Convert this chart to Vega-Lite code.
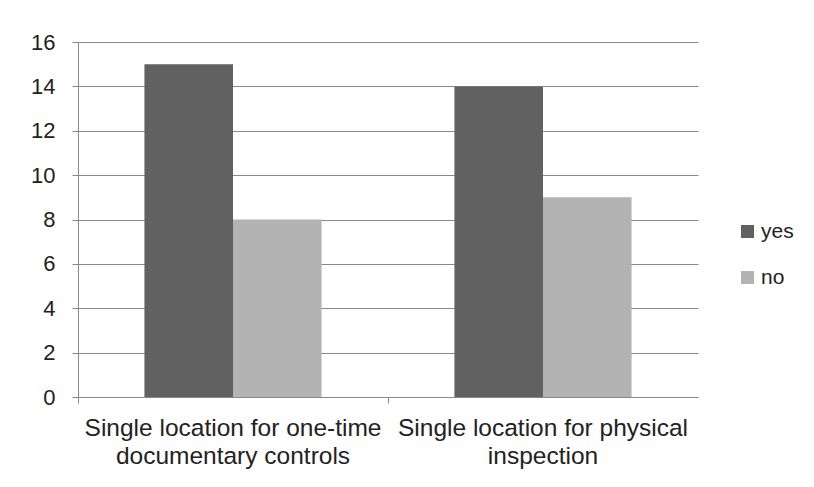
{
  "$schema": "https://vega.github.io/schema/vega-lite/v6.json",
  "autosize": "none",
  "width": 620,
  "height": 355,
  "padding": {"left": 78, "top": 42, "right": 116, "bottom": 90},
  "background": "white",
  "data": {
    "values": [
      {"category": "Single location for one-time documentary controls", "answer": "yes", "count": 15},
      {"category": "Single location for one-time documentary controls", "answer": "no", "count": 8},
      {"category": "Single location for physical inspection", "answer": "yes", "count": 14},
      {"category": "Single location for physical inspection", "answer": "no", "count": 9}
    ]
  },
  "mark": {"type": "bar"},
  "encoding": {
    "x": {
      "field": "category",
      "type": "nominal",
      "sort": null,
      "title": null,
      "scale": {"paddingInner": 0, "paddingOuter": 0},
      "axis": {
        "bandPosition": 0,
        "labelAngle": 0,
        "labelFontSize": 24.5,
        "labelFont": "Liberation Sans",
        "labelColor": "#222",
        "labelPadding": 13,
        "labelLineHeight": 28,
        "labelLimit": 400,
        "domainColor": "#888",
        "tickColor": "#888",
        "tickSize": 6,
        "labelExpr": "datum.value == 'Single location for one-time documentary controls' ? ['Single location for one-time', 'documentary controls'] : ['Single location for physical', 'inspection']"
      }
    },
    "xOffset": {
      "field": "answer",
      "type": "nominal",
      "sort": ["yes", "no"],
      "scale": {"paddingInner": 0, "paddingOuter": 0.75}
    },
    "y": {
      "field": "count",
      "type": "quantitative",
      "title": null,
      "scale": {"domain": [0, 16], "nice": false},
      "axis": {
        "values": [0, 2, 4, 6, 8, 10, 12, 14, 16],
        "labelFontSize": 22,
        "labelFont": "Liberation Sans",
        "labelColor": "#222",
        "labelPadding": 17,
        "domainColor": "#888",
        "tickColor": "#888",
        "tickSize": 6,
        "gridColor": "#888",
        "gridOpacity": 1
      }
    },
    "color": {
      "field": "answer",
      "type": "nominal",
      "sort": ["yes", "no"],
      "scale": {"domain": ["yes", "no"], "range": ["#616161", "#b3b3b3"]},
      "legend": {
        "title": null,
        "orient": "none",
        "legendX": 659,
        "legendY": 179,
        "symbolType": "square",
        "symbolSize": 169,
        "symbolStrokeWidth": 0,
        "labelFontSize": 21,
        "labelFont": "Liberation Sans",
        "labelColor": "#222",
        "labelOffset": 3,
        "rowPadding": 24
      }
    }
  },
  "config": {
    "view": {"stroke": null},
    "axis": {"grid": true},
    "axisX": {"grid": false}
  }
}
